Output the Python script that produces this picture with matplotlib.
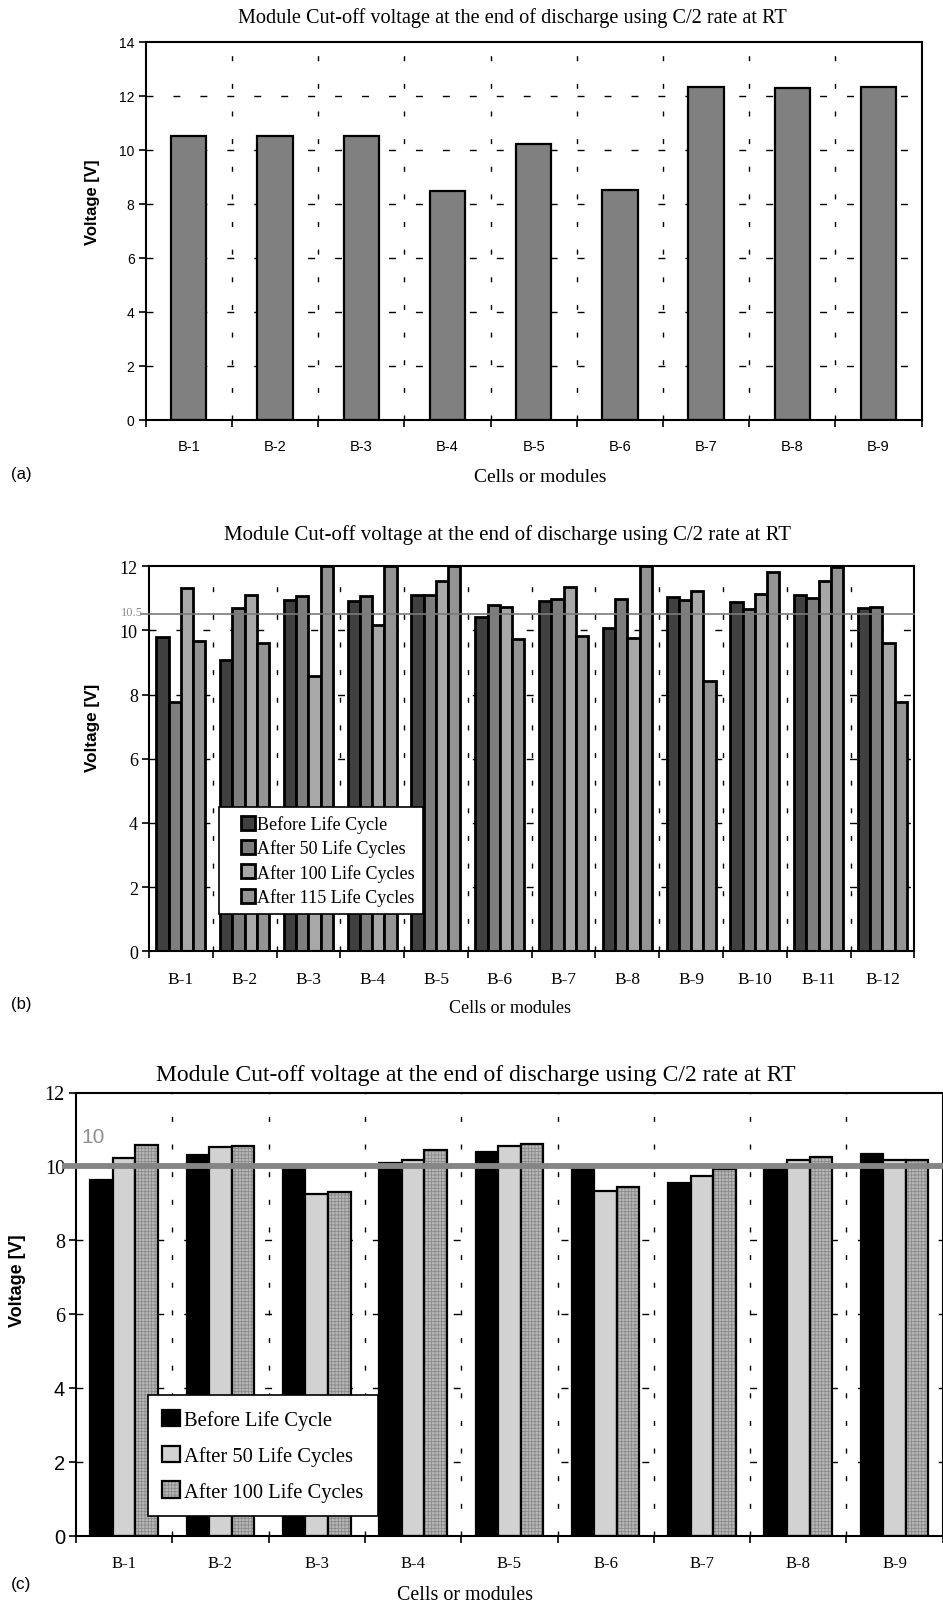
import matplotlib
matplotlib.use('Agg')
import matplotlib.pyplot as plt
from matplotlib.legend_handler import HandlerPatch
import numpy as np

plt.rcParams['lines.scale_dashes'] = False
plt.rcParams['hatch.linewidth'] = 0.6

SERIF = 'Liberation Serif'
SANS = 'Liberation Sans'
W, H = 943, 1606

title = 'Module Cut-off voltage at the end of discharge using C/2 rate at RT'

# (a) single discharge test, 9 modules
mods_a = ['B-1', 'B-2', 'B-3', 'B-4', 'B-5', 'B-6', 'B-7', 'B-8', 'B-9']
volt_a = [10.52, 10.50, 10.52, 8.46, 10.22, 8.50, 12.32, 12.28, 12.32]

# (b) 12 modules over the life cycle test
mods_b = ['B-1', 'B-2', 'B-3', 'B-4', 'B-5', 'B-6', 'B-7', 'B-8', 'B-9', 'B-10', 'B-11', 'B-12']
before_b = [9.81, 9.09, 10.96, 10.91, 11.12, 10.41, 10.93, 10.07, 11.05, 10.88, 11.12, 10.69]
after50_b = [7.76, 10.69, 11.07, 11.07, 11.09, 10.80, 10.98, 10.98, 10.96, 10.67, 11.01, 10.72]
after100_b = [11.32, 11.12, 8.59, 10.18, 11.53, 10.73, 11.37, 9.77, 11.22, 11.14, 11.55, 9.60]
after115_b = [9.66, 9.62, 12.0, 12.0, 12.0, 9.72, 9.82, 12.0, 8.42, 11.81, 11.97, 7.76]
labels_b = ['Before Life Cycle', 'After 50 Life Cycles', 'After 100 Life Cycles', 'After 115 Life Cycles']
limit_b = 10.5

# (c) 9 modules, three test points
mods_c = ['B-1', 'B-2', 'B-3', 'B-4', 'B-5', 'B-6', 'B-7', 'B-8', 'B-9']
before_c = [9.64, 10.32, 10.0, 10.08, 10.38, 10.0, 9.56, 10.0, 10.34]
after50_c = [10.23, 10.52, 9.24, 10.16, 10.56, 9.33, 9.75, 10.18, 10.17]
after100_c = [10.57, 10.54, 9.30, 10.43, 10.60, 9.43, 9.93, 10.25, 10.17]
labels_c = ['Before Life Cycle', 'After 50 Life Cycles', 'After 100 Life Cycles']
limit_c = 10


def frame(l, t, r, b):
    return [l / W, 1 - b / H, (r - l) / W, (b - t) / H]


def ftext(x, y, s, **kw):
    fig.text(x / W, 1 - y / H, s, ha=kw.pop('ha', 'center'), va=kw.pop('va', 'center'), **kw)


def square_right(legend, orig_handle, xdescent, ydescent, width, height, fontsize):
    # square key pushed to the right end of the handle box
    return plt.Rectangle((-xdescent + width - height, -ydescent), height, height)


def setup(ax, names, ymax, ystep, vdash, hdash, tickfont, tsize, xsize):
    n = len(names)
    ax.set_xlim(-0.5, n - 0.5)
    ax.set_ylim(0, ymax)
    for b in np.arange(0.5, n - 0.5):
        ax.axvline(b, color='black', lw=1.0, ls=(0, vdash), zorder=0.5)
    for y in np.arange(ystep, ymax, ystep):
        ax.axhline(y, color='black', lw=1.0, ls=(0, hdash), zorder=0.5)
    ax.set_xticks(np.arange(-0.5, n), [''] * (n + 1))
    ax.set_xticks(np.arange(n), names, minor=True)
    ax.tick_params(axis='x', which='major', direction='out', length=5, width=1.2)
    ax.tick_params(axis='x', which='minor', length=0, pad=14)
    ax.set_yticks(np.arange(0, ymax + 0.1, ystep))
    ax.tick_params(axis='y', direction='out', length=5, width=1.2, pad=3)
    for lab in ax.get_xticklabels(minor=True):
        lab.set_fontfamily(tickfont)
        lab.set_fontsize(xsize)
    for lab in ax.get_yticklabels():
        lab.set_fontfamily(tickfont)
        lab.set_fontsize(tsize)
    for s in ax.spines.values():
        s.set_linewidth(1.5)


fig = plt.figure(figsize=(W / 100, H / 100), dpi=100)

# ---- (a)
ax = fig.add_axes(frame(145.7, 42.7, 921.7, 420.7))
setup(ax, mods_a, 14, 2, (3.6, 16.3), (5.0, 14.4), SANS, 10, 10.5)
ax.bar(np.arange(len(mods_a)), volt_a, width=0.41, color='#808080',
       edgecolor='black', linewidth=1.6, zorder=2)
ftext(512, 18, title, fontfamily=SERIF, fontsize=14.6)
ftext(93, 202, 'Voltage [V]', fontfamily=SANS, fontweight='bold', fontsize=12, rotation=90)
ftext(540, 478, 'Cells or modules', fontfamily=SERIF, fontsize=14)
ftext(21, 475, '(a)', fontfamily=SANS, fontsize=12)

# ---- (b)
ax = fig.add_axes(frame(149, 567.3, 914.3, 952.3))
setup(ax, mods_b, 12, 2, (3.6, 16.3), (5.0, 14.4), SERIF, 13, 12.5)
xb = np.arange(len(mods_b))
wb = 0.192
cols_b = ['#404040', '#7e7e7e', '#a8a8a8', '#949494']
for i, (vals, c, lab) in enumerate(zip([before_b, after50_b, after100_b, after115_b], cols_b, labels_b)):
    ax.bar(xb + (i - 1.5) * wb, vals, width=wb, color=c, edgecolor='black',
           linewidth=2.0, zorder=2, label=lab)
ax.plot([-0.01, 1], [limit_b, limit_b], transform=ax.get_yaxis_transform(),
        color='#7a7a7a', lw=1.2, zorder=3, clip_on=False)
ftext(143, 613, str(limit_b), fontfamily=SERIF, fontsize=9, color='#8a8a8a', ha='right')
h, l = ax.get_legend_handles_labels()
leg = ax.legend([hh.patches[0] for hh in h], l, loc='lower left', bbox_to_anchor=(0.0915, 0.097),
                borderaxespad=0, prop={'family': SERIF, 'size': 13},
                handlelength=1.55, handleheight=0.82, handletextpad=0.1,
                labelspacing=0.35, borderpad=0.45,
                handler_map={plt.Rectangle: HandlerPatch(patch_func=square_right)},
                fancybox=False, framealpha=1, edgecolor='black')
leg.get_frame().set_linewidth(1.2)
leg.set_zorder(5)
ftext(507, 535, title, fontfamily=SERIF, fontsize=15)
ftext(93, 728, 'Voltage [V]', fontfamily=SANS, fontweight='bold', fontsize=12.3, rotation=90)
ftext(510, 1009, 'Cells or modules', fontfamily=SERIF, fontsize=13)
ftext(21, 1005, '(b)', fontfamily=SANS, fontsize=12)

# ---- (c)
ax = fig.add_axes(frame(76, 1093.5, 942.7, 1536.7))
setup(ax, mods_c, 12, 2, (3.6, 16.3), (5.0, 14.4), SERIF, 14.5, 12)
for lab in ax.get_yticklabels():
    if lab.get_text() in ('0', '2', '4'):
        lab.set_fontfamily(SANS)
xc = np.arange(len(mods_c))
wc = 0.234
ax.bar(xc - wc, before_c, width=wc, color='black', edgecolor='black',
       linewidth=1.6, zorder=2, label=labels_c[0])
ax.bar(xc, after50_c, width=wc, color='#d2d2d2', edgecolor='black',
       linewidth=1.6, zorder=2, label=labels_c[1])
ax.bar(xc + wc, after100_c, width=wc, color='#b8b8b8', edgecolor='#8a8a8a',
       linewidth=0, hatch='+++++', zorder=2)
ax.bar(xc + wc, after100_c, width=wc, color='none', edgecolor='black',
       linewidth=1.6, zorder=2.1)
ax.plot([-0.013, 1], [limit_c, limit_c], transform=ax.get_yaxis_transform(),
        color='#858585', lw=4.2, zorder=3, clip_on=False)
ftext(81, 1138, str(limit_c), fontfamily=SANS, fontsize=15, color='#909090', ha='left')
hatch_patch = plt.Rectangle((0, 0), 1, 1, facecolor='#b8b8b8', edgecolor='#8a8a8a',
                            hatch='+++++', linewidth=0)
frame_patch = plt.Rectangle((0, 0), 1, 1, facecolor='none', edgecolor='black', linewidth=1.6)
h, l = ax.get_legend_handles_labels()
leg = ax.legend(h + [(hatch_patch, frame_patch)], l + [labels_c[2]],
                loc='lower left', bbox_to_anchor=(0.083, 0.0445), borderaxespad=0,
                prop={'family': SERIF, 'size': 14.8}, handlelength=0.85, handleheight=0.85,
                handletextpad=0.2, labelspacing=0.75, borderpad=0.7,
                fancybox=False, framealpha=1, edgecolor='black')
leg.get_frame().set_linewidth(1.2)
leg.set_zorder(5)
ftext(476, 1075, title, fontfamily=SERIF, fontsize=17)
ftext(18, 1281, 'Voltage [V]', fontfamily=SANS, fontweight='bold', fontsize=13, rotation=90)
ftext(465, 1596, 'Cells or modules', fontfamily=SERIF, fontsize=14.4)
ftext(21, 1585, '(c)', fontfamily=SANS, fontsize=12.5)

fig.savefig('out.png', dpi=100, facecolor='white')
